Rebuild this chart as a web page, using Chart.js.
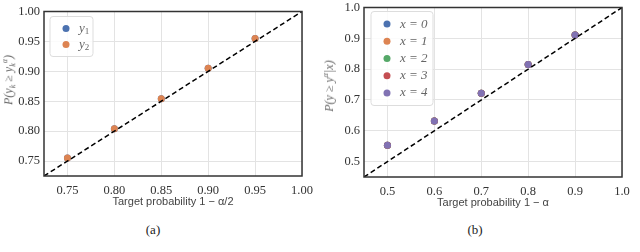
<!DOCTYPE html>
<html>
<head>
<meta charset="utf-8">
<script src="https://cdn.jsdelivr.net/npm/chart.js@4"></script>
<style>
  body { margin: 0; background: #fff; width: 640px; height: 252px; position: relative; overflow: hidden; }
  .panel { position: absolute; }
  .ytitle { position: absolute; font-family: "Liberation Serif", serif; font-style: italic; font-size: 12px; color: #666;
            transform: translate(-50%, -50%) rotate(-90deg); white-space: nowrap; }
  .ytitle sub, .ytitle sup { font-size: 8px; }
  .caption { position: absolute; font-family: "Liberation Serif", serif; font-size: 13px; color: #222; transform: translateX(-50%); }
</style>
</head>
<body>
<div class="panel" style="left:0;top:0;width:320px;height:209px"><canvas id="chartA"></canvas></div>
<div class="panel" style="left:320px;top:-4px;width:320px;height:214px"><canvas id="chartB"></canvas></div>
<div class="ytitle" style="left:9px;top:80px">P(y<sub>k</sub> ≥ y<sub>k</sub><sup>α</sup>)</div>
<div class="ytitle" style="left:329px;top:86px">P(y ≥ y<sup>α</sup>|x)</div>
<div class="caption" style="left:153px;top:222px">(a)</div>
<div class="caption" style="left:475px;top:222px">(b)</div>
<script>
// panel (a): coverage per output
const targetsA = [0.75, 0.80, 0.85, 0.90, 0.95];
const y1Cov = [0.755, 0.804, 0.854, 0.905, 0.955];
const y2Cov = [0.755, 0.804, 0.854, 0.905, 0.955];
const ticksA = [0.75, 0.80, 0.85, 0.90, 0.95, 1.00];
const rangeA = [0.725, 1.0];

// panel (b): coverage per input x
const targetsB = [0.5, 0.6, 0.7, 0.8, 0.9];
const x0Cov = [0.553, 0.632, 0.722, 0.815, 0.911];
const x1Cov = [0.553, 0.632, 0.722, 0.815, 0.911];
const x2Cov = [0.553, 0.632, 0.722, 0.815, 0.911];
const x3Cov = [0.553, 0.632, 0.722, 0.815, 0.911];
const x4Cov = [0.553, 0.632, 0.722, 0.815, 0.911];
const ticksB = [0.5, 0.6, 0.7, 0.8, 0.9, 1.0];
const rangeB = [0.45, 1.0];

const palette = ['#4C72B0', '#DD8452', '#55A868', '#C44E52', '#8172B3'];

function toPoints(xs, ys) {
    return xs.map((x, i) => ({ x: x, y: ys[i] }));
}

// legend box drawn inside the plot area + full frame around it
const insideLegend = {
    id: 'insideLegend',
    afterDraw(chart, args, opts) {
        const ctx = chart.ctx;
        const a = chart.chartArea;
        ctx.save();
        ctx.strokeStyle = '#333';
        ctx.lineWidth = 1.5;
        ctx.strokeRect(a.left, a.top, a.right - a.left, a.bottom - a.top);

        const items = chart.data.datasets.filter(d => d.legendText);
        const x = a.left + opts.dx, y = a.top + opts.dy;
        const h = items.length * opts.row + 8;
        ctx.fillStyle = 'rgba(255,255,255,0.85)';
        ctx.strokeStyle = '#ddd';
        ctx.lineWidth = 1;
        ctx.beginPath();
        ctx.roundRect(x, y, opts.w, h, 3);
        ctx.fill();
        ctx.stroke();
        items.forEach((d, i) => {
            const cy = y + 4 + opts.row * (i + 0.5);
            ctx.fillStyle = d.backgroundColor;
            ctx.beginPath();
            ctx.arc(x + 16, cy, 3.5, 0, Math.PI * 2);
            ctx.fill();
            ctx.fillStyle = '#666';
            ctx.textBaseline = 'middle';
            ctx.font = 'italic 13px "Liberation Serif"';
            ctx.fillText(d.legendText[0], x + 29, cy);
            if (d.legendText[1]) {
                const w = ctx.measureText(d.legendText[0]).width;
                ctx.font = '9px "Liberation Serif"';
                ctx.fillText(d.legendText[1], x + 29 + w, cy + 3);
            }
        });
        ctx.restore();
    }
};

function makeChart(id, series, diag, range, ticks, digits, xTitle, legendOpts, padTop) {
    const datasets = [{
        type: 'line',
        data: diag,
        borderColor: '#000',
        borderWidth: 1.5,
        borderDash: [5, 3],
        pointRadius: 0,
        order: 0
    }];
    series.forEach((s, i) => {
        datasets.push({
            data: s.points,
            legendText: s.label,
            backgroundColor: palette[i],
            borderWidth: 0,
            pointRadius: 3.5,
            order: series.length - i
        });
    });
    const tickFont = { family: '"Liberation Serif"', size: 12.5 };
    new Chart(document.getElementById(id), {
        type: 'scatter',
        data: { datasets: datasets },
        options: {
            responsive: true,
            maintainAspectRatio: false,
            animation: false,
            events: [],
            layout: { padding: { top: padTop, left: 0, right: 18, bottom: 0 } },
            plugins: { legend: { display: false }, tooltip: { enabled: false }, insideLegend: legendOpts },
            scales: {
                x: {
                    min: range[0], max: range[1],
                    afterBuildTicks: s => { s.ticks = ticks.map(v => ({ value: v })); },
                    afterFit: s => { s.height = 33; },
                    grid: { color: '#e3e3e3', drawTicks: false },
                    border: { display: false },
                    ticks: { font: tickFont, color: '#333', padding: 7, callback: v => v.toFixed(digits) },
                    title: { display: true, text: xTitle, color: '#444', padding: { top: 0, bottom: 0 },
                             font: { family: '"Liberation Sans"', size: 11 } }
                },
                y: {
                    min: range[0], max: range[1],
                    afterBuildTicks: s => { s.ticks = ticks.map(v => ({ value: v })); },
                    afterFit: s => { s.width = 44; },
                    grid: { color: '#e3e3e3', drawTicks: false },
                    border: { display: false },
                    ticks: { font: tickFont, color: '#333', padding: 4, callback: v => v.toFixed(digits) }
                }
            }
        },
        plugins: [insideLegend]
    });
}

makeChart('chartA', [
    { label: ['y', '1'], points: toPoints(targetsA, y1Cov) },
    { label: ['y', '2'], points: toPoints(targetsA, y2Cov) }
], [{ x: rangeA[0], y: rangeA[0] }, { x: rangeA[1], y: rangeA[1] }],
   rangeA, ticksA, 2, 'Target probability 1 − α/2', { dx: 6, dy: 5, w: 43, row: 16 }, 9);

makeChart('chartB', [
    { label: ['x = 0'], points: toPoints(targetsB, x0Cov) },
    { label: ['x = 1'], points: toPoints(targetsB, x1Cov) },
    { label: ['x = 2'], points: toPoints(targetsB, x2Cov) },
    { label: ['x = 3'], points: toPoints(targetsB, x3Cov) },
    { label: ['x = 4'], points: toPoints(targetsB, x4Cov) }
], [{ x: rangeB[0], y: rangeB[0] }, { x: rangeB[1], y: rangeB[1] }],
   rangeB, ticksB, 1, 'Target probability 1 − α', { dx: 7, dy: 4, w: 62, row: 17.2 }, 9);
</script>
</body>
</html>
